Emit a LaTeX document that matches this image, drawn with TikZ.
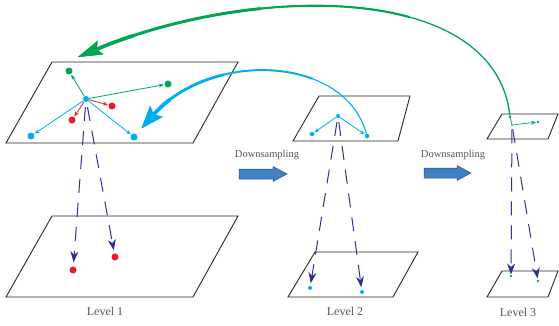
\documentclass[tikz,border=0pt]{standalone}
\usepackage{fontspec}
\setmainfont{Liberation Serif}
\usetikzlibrary{arrows.meta}
\definecolor{gr}{RGB}{0,166,81}
\definecolor{cy}{RGB}{0,174,239}
\definecolor{rd}{RGB}{237,28,36}
\definecolor{nv}{RGB}{46,49,146}
\definecolor{dsb}{RGB}{64,128,196}
\definecolor{dsd}{RGB}{40,80,130}
\definecolor{lab}{RGB}{85,85,85}
\begin{document}
\begin{tikzpicture}[x=1pt,y=-1pt,
  plane/.style={draw=black!85,line width=0.9pt,line join=miter},
  dotn/.style={circle,fill=#1,inner sep=0pt,draw=none},
  big/.style={minimum size=7pt},
  mid/.style={minimum size=4.5pt},
  sml/.style={minimum size=2.6pt},
  thinarr/.style={draw=#1,line width=0.8pt,-{Stealth[length=5pt,width=4pt]},shorten >=0.5pt},
  dsh/.style={draw=nv,line width=1pt,dash pattern=on 14pt off 10pt,-{Stealth[length=11pt,width=8pt,inset=3.5pt]}},
  lbl/.style={text=lab,font=\fontsize{12}{14}\selectfont,inner sep=0pt},
  dtext/.style={text=lab,font=\fontsize{10.5}{12}\selectfont,inner sep=0pt},
  dsarrow/.style={fill=dsb,draw=dsd,line width=0.5pt}
]
\useasboundingbox (0,0) rectangle (559,325);

% ---------- planes ----------
\draw[plane] (52,62) -- (238,62) -- (193,143) -- (6,143) -- cycle;
\draw[plane] (52,216) -- (238,216) -- (193,297) -- (6,297) -- cycle;
\draw[plane] (319,96) -- (410,96) -- (398,141) -- (293,141) -- cycle;
\draw[plane] (315,252) -- (418,252) -- (393,297) -- (288,297) -- cycle;
\draw[plane] (502,114) -- (558,114) -- (548,139) -- (487,139) -- cycle;
\draw[plane] (502,271) -- (558,271) -- (548,297) -- (487,297) -- cycle;

% ---------- level 1 top ----------
\node[dotn=cy,minimum size=6pt] (c1) at (86,99) {};
\node[dotn=gr,big] (g1) at (69,71) {};
\node[dotn=gr,big] (g2) at (168,84) {};
\node[dotn=rd,big] (r1) at (112,106) {};
\node[dotn=rd,big] (r2) at (72,120) {};
\node[dotn=cy,big] (b1l) at (31,136) {};
\node[dotn=cy,big] (b1r) at (134,137) {};
\draw[thinarr=gr] (c1) -- (g1);
\draw[thinarr=gr] (c1) -- (g2);
\draw[thinarr=rd] (c1) -- (r1);
\draw[thinarr=rd] (c1) -- (r2);
\draw[thinarr=cy] (c1) -- (b1l);
\draw[thinarr=cy] (c1) -- (b1r);

% ---------- level 1 bottom ----------
\node[dotn=rd,big] (rb1) at (73,270) {};
\node[dotn=rd,big] (rb2) at (115,257) {};
\draw[dsh,shorten <=5pt,shorten >=4pt] (c1) -- (rb1);
\draw[dsh,shorten <=5pt,shorten >=3pt] (c1) -- (rb2);

% ---------- level 2 top ----------
\node[dotn=cy,minimum size=4pt] (c2) at (338,116) {};
\node[dotn=cy,mid] (b2l) at (312,134) {};
\node[dotn=cy,mid] (b2r) at (367,136) {};
\draw[thinarr=cy] (c2) -- (b2l);
\draw[thinarr=cy] (c2) -- (b2r);

% ---------- level 2 bottom ----------
\node[dotn=cy,minimum size=4pt] (bb1) at (310,288) {};
\node[dotn=cy,minimum size=4pt] (bb2) at (362,292) {};
\draw[dsh,shorten <=4pt,shorten >=2.5pt] (c2) -- (bb1);
\draw[dsh,shorten <=4pt,shorten >=2.5pt] (c2) -- (bb2);

% ---------- level 3 top ----------
\node[dotn=cy,minimum size=2.2pt] (c3) at (512,125) {};
\node[dotn=gr,sml] (g3a) at (510,117) {};
\node[dotn=gr,sml] (g3b) at (538,122) {};
\draw[gr,line width=0.8pt] (c3) -- (g3a);
\draw[thinarr=gr,line width=0.7pt] (c3) -- (g3b);

% ---------- level 3 bottom ----------
\node[dotn=gr,sml] (gb1) at (511,276) {};
\node[dotn=gr,sml] (gb2) at (538,281) {};
\draw[dsh,shorten <=3pt,shorten >=0pt] (c3) -- (gb1);
\draw[dsh,shorten <=3pt,shorten >=1pt] (c3) -- (gb2);

% ---------- big green curve (tapered) ----------
\coordinate (gtip) at (78,57);
\foreach \w/\s in {1.3/0,2.1/150,2.9/300,3.6/430}{
  \draw[gr,line width=\w pt,dash pattern=on 0pt off \s pt on 2000pt,
        -{Stealth[length=24pt,width=14pt,inset=4pt]}]
    (g3a) .. controls (495,-20) and (250,-15) .. (gtip);
}

% ---------- big blue curve (tapered) ----------
\foreach \w/\s in {1.1/0,1.9/80,2.8/170,3.8/230}{
  \draw[cy,line width=\w pt,dash pattern=on 0pt off \s pt on 2000pt,
        -{Stealth[length=22pt,width=16pt,inset=4pt]},shorten >=8pt]
    (b2r) .. controls (345,55) and (210,50) .. (b1r);
}

% ---------- downsampling arrows ----------
\draw[dsarrow] (239,169) -- (273,169) -- (273,166.5) -- (287,174) -- (273,181.5) -- (273,179) -- (239,179) -- cycle;
\draw[dsarrow] (424,168) -- (457,168) -- (457,165.5) -- (471,173) -- (457,180.5) -- (457,178) -- (424,178) -- cycle;
\node[dtext] (ds1) at (267,155) {Downsampling};
\node[dtext] (ds2) at (453,155) {Downsampling};

% ---------- labels ----------
\node[lbl] (l1) at (105,311) {Level 1};
\node[lbl] (l2) at (345,311) {Level 2};
\node[lbl] (l3) at (518,312) {Level 3};
\end{tikzpicture}
\end{document}
